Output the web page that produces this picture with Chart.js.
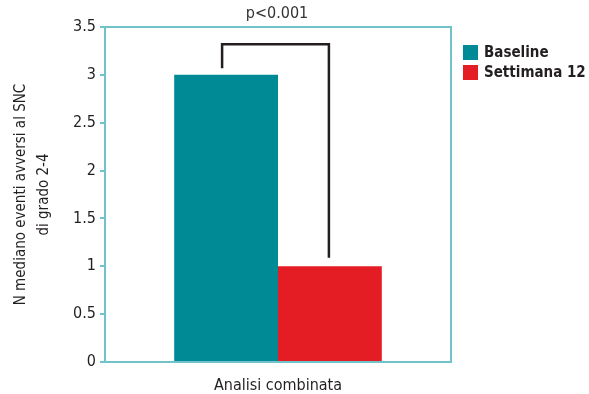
<!DOCTYPE html>
<html>
<head>
<meta charset="utf-8">
<script src="https://cdn.jsdelivr.net/npm/chart.js@4.4.1/dist/chart.umd.min.js"></script>
<style>
  html, body { margin: 0; padding: 0; background: #fff; }
  #wrap { width: 589px; height: 394px; }
</style>
</head>
<body>
<div id="wrap"><canvas id="grafico"></canvas></div>
<script>
const categorie = ['Analisi combinata'];
const baseline = [3];
const settimana12 = [1];
const etichetteSerie = ['Baseline', 'Settimana 12'];
const yTicks = [0, 0.5, 1, 1.5, 2, 2.5, 3, 3.5];
const pValore = 'p<0.001';
const bracketTop = 3.32;

const FONT = '"Liberation Sans Narrow", "DejaVu Sans Condensed", sans-serif';
const AXIS = '#72c2ca';

// Riquadro, parentesi, p-value e legenda
const extras = {
  id: 'extras',
  afterDraw(chart) {
    const ctx = chart.ctx;
    const a = chart.chartArea;
    const y = chart.scales.y;
    ctx.save();
    ctx.strokeStyle = AXIS;
    ctx.lineWidth = 2;
    ctx.strokeRect(a.left, a.top, a.right - a.left, a.bottom - a.top);

    const b0 = chart.getDatasetMeta(0).data[0];
    const b1 = chart.getDatasetMeta(1).data[0];
    const yt = y.getPixelForValue(bracketTop);
    ctx.strokeStyle = '#231f20';
    ctx.lineWidth = 2.5;
    ctx.beginPath();
    ctx.moveTo(b0.x - 4, y.getPixelForValue(baseline[0] + 0.07));
    ctx.lineTo(b0.x - 4, yt);
    ctx.lineTo(b1.x - 1, yt);
    ctx.lineTo(b1.x - 1, y.getPixelForValue(settimana12[0] + 0.09));
    ctx.stroke();

    ctx.fillStyle = '#333';
    ctx.font = '16px ' + FONT;
    ctx.textAlign = 'center';
    ctx.textBaseline = 'middle';
    ctx.fillText(pValore, (b0.x + b1.x) / 2 - 1, 14);

    ctx.textAlign = 'left';
    ctx.font = 'bold 15px ' + FONT;
    chart.data.datasets.forEach((ds, i) => {
      const cy = 52 + i * 20;
      ctx.fillStyle = ds.backgroundColor;
      ctx.fillRect(463, cy - 7, 15, 15);
      ctx.fillStyle = '#231f20';
      ctx.fillText(ds.label, 484, cy + 1);
    });
    ctx.restore();
  }
};

new Chart(document.getElementById('grafico'), {
  type: 'bar',
  data: {
    labels: categorie,
    datasets: [
      { label: etichetteSerie[0], data: baseline, backgroundColor: '#008a96' },
      { label: etichetteSerie[1], data: settimana12, backgroundColor: '#e41d25' }
    ]
  },
  options: {
    responsive: true,
    maintainAspectRatio: false,
    animation: false,
    layout: { padding: { top: 27, right: 138, left: 9, bottom: 0 } },
    datasets: { bar: { categoryPercentage: 0.6, barPercentage: 1 } },
    plugins: { legend: { display: false }, tooltip: { enabled: false } },
    scales: {
      x: {
        grid: { display: false },
        border: { display: false },
        ticks: { color: '#231f20', font: { family: FONT, size: 16 }, padding: 6 },
        afterFit: s => { s.height = 32; }
      },
      y: {
        min: 0, max: 3.5,
        afterBuildTicks: s => { s.ticks = yTicks.map(v => ({ value: v })); },
        grid: { drawOnChartArea: false, color: AXIS, lineWidth: 2, tickLength: 5 },
        border: { display: false },
        ticks: {
          color: '#231f20', font: { family: FONT, size: 16 }, padding: 4,
          callback: v => String(v)
        },
        title: {
          display: true,
          text: ['N mediano eventi avversi al SNC', 'di grado 2-4'],
          color: '#231f20',
          font: { family: FONT, size: 15, lineHeight: 1.55 },
          padding: 0
        },
        afterFit: s => { s.width = 96; }
      }
    }
  },
  plugins: [extras]
});
</script>
</body>
</html>
